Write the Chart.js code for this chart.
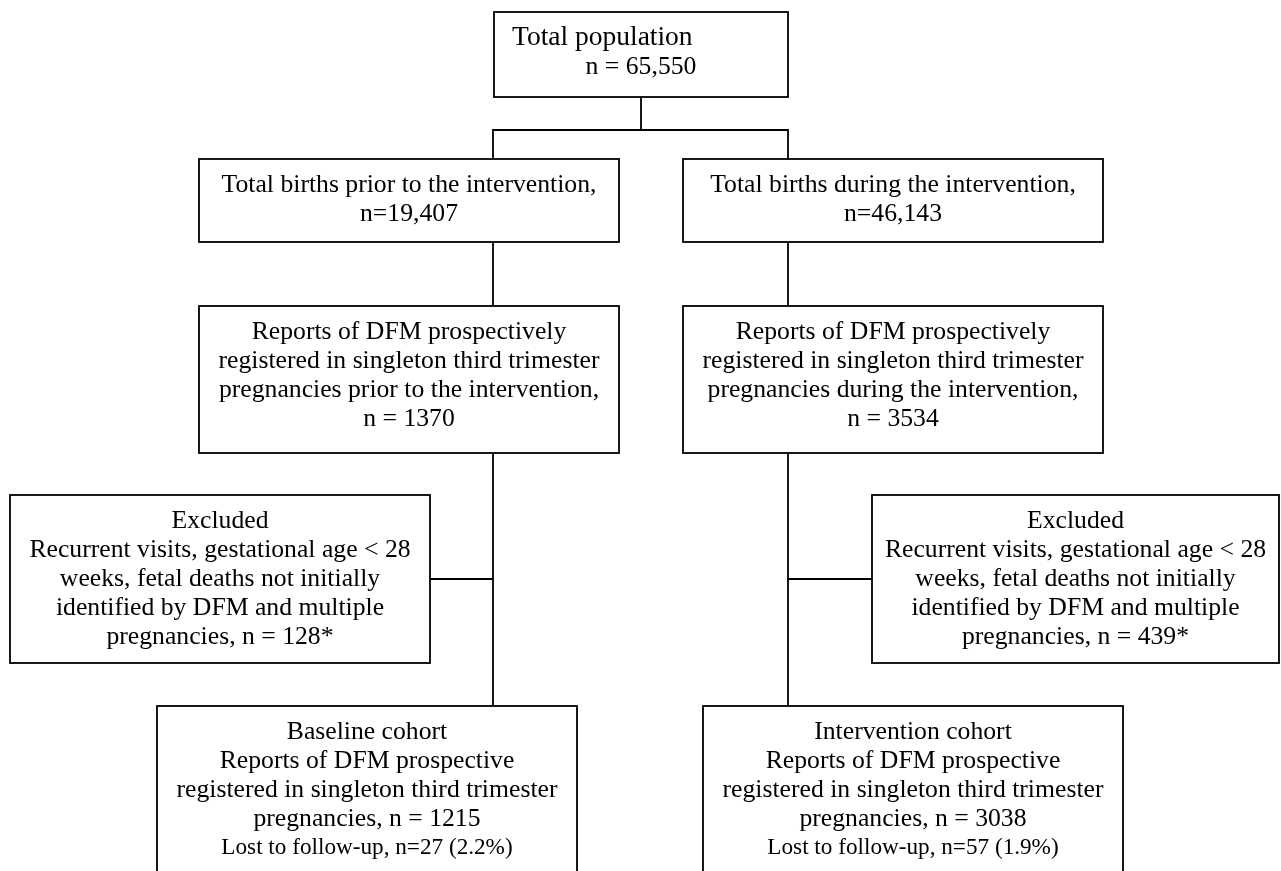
<!DOCTYPE html>
<html>
<head>
<meta charset="utf-8">
<script src="https://cdn.jsdelivr.net/npm/chart.js@4"></script>
<style>
  body { margin: 0; background: #fff; }
  #wrap { width: 1281px; height: 871px; }
</style>
</head>
<body>
<div id="wrap"><canvas id="flowChart" width="1281" height="871"></canvas></div>
<script>
// DATA - counts
var totalPopulation = 65550;
var armNames = ["prior to the intervention", "during the intervention"];
var birthCounts = [19407, 46143];
var reportCounts = [1370, 3534];
var excludedCounts = [128, 439];
var cohortNames = ["Baseline cohort", "Intervention cohort"];
var cohortCounts = [1215, 3038];
var lostCounts = [27, 57];
var lostPercents = [2.2, 1.9];

function fmt(n) { return n.toLocaleString("en-US"); }

// box texts built from the data
var boxes = [];
boxes.push({ id: "top", lines: ["Total population", "n = " + fmt(totalPopulation)], firstLeft: true });
for (var i = 0; i < 2; i++) {
    boxes.push({ id: "births" + i, lines: ["Total births " + armNames[i] + ",", "n=" + fmt(birthCounts[i])] });
    boxes.push({ id: "reports" + i, lines: ["Reports of DFM prospectively",
        "registered in singleton third trimester",
        "pregnancies " + armNames[i] + ",",
        "n = " + reportCounts[i]] });
    boxes.push({ id: "excluded" + i, lines: ["Excluded",
        "Recurrent visits, gestational age < 28",
        "weeks, fetal deaths not initially",
        "identified by DFM and multiple",
        "pregnancies, n = " + excludedCounts[i] + "*"] });
    boxes.push({ id: "cohort" + i, lines: [cohortNames[i],
        "Reports of DFM prospective",
        "registered in singleton third trimester",
        "pregnancies, n = " + cohortCounts[i],
        "Lost to follow-up, n=" + lostCounts[i] + " (" + lostPercents[i] + "%)"], smallLast: true });
}

// LAYOUT - box rectangles in chart units [left, top, right, bottom]
var boxLayout = {
    top: [494, 12, 788, 97],
    births0: [199, 159, 619, 242],
    births1: [683, 159, 1103, 242],
    reports0: [199, 306, 619, 453],
    reports1: [683, 306, 1103, 453],
    excluded0: [10, 495, 430, 663],
    excluded1: [872, 495, 1279, 663],
    cohort0: [157, 706, 577, 900],
    cohort1: [703, 706, 1123, 900]
};
var spineX = [493, 788];   // vertical flow lines for each arm
var splitY = 130;          // where the total splits into two arms

// connectors derived from the layout
var t = boxLayout.top;
var connectors = [
    [{ x: (t[0] + t[2]) / 2, y: t[3] }, { x: (t[0] + t[2]) / 2, y: splitY }],
    [{ x: spineX[0], y: boxLayout.births0[1] }, { x: spineX[0], y: splitY }, { x: spineX[1], y: splitY }, { x: spineX[1], y: boxLayout.births1[1] }]
];
for (var k = 0; k < 2; k++) {
    connectors.push([{ x: spineX[k], y: boxLayout["births" + k][3] }, { x: spineX[k], y: boxLayout["reports" + k][1] }]);
    connectors.push([{ x: spineX[k], y: boxLayout["reports" + k][3] }, { x: spineX[k], y: boxLayout["cohort" + k][1] }]);
    var ex = boxLayout["excluded" + k];
    var midY = (ex[1] + ex[3]) / 2;
    connectors.push([{ x: k === 0 ? ex[2] : ex[0], y: midY }, { x: spineX[k], y: midY }]);
}

var boxPlugin = {
    id: "boxes",
    afterDatasetsDraw: function (chart) {
        var ctx = chart.ctx;
        var xs = chart.scales.x, ys = chart.scales.y;
        ctx.save();
        boxes.forEach(function (b) {
            var r = boxLayout[b.id];
            var x0 = xs.getPixelForValue(r[0]), y0 = ys.getPixelForValue(r[1]);
            var x1 = xs.getPixelForValue(r[2]), y1 = ys.getPixelForValue(r[3]);
            ctx.fillStyle = "#fff";
            ctx.fillRect(x0, y0, x1 - x0, y1 - y0);
            ctx.strokeStyle = "#000";
            ctx.lineWidth = 1.8;
            ctx.strokeRect(x0, y0, x1 - x0, y1 - y0);
            ctx.fillStyle = "#000";
            ctx.textBaseline = "middle";
            b.lines.forEach(function (line, j) {
                var size = 25.7;
                if (b.smallLast && j === b.lines.length - 1) size = 23.2;
                if (b.firstLeft && j === 0) size = 27.5;
                ctx.font = size + "px 'Liberation Serif', 'Times New Roman', serif";
                var y = y0 + 26 + j * 29;
                if (b.firstLeft && j === 0) {
                    ctx.textAlign = "left";
                    ctx.fillText(line, x0 + 18, y);
                } else {
                    ctx.textAlign = "center";
                    ctx.fillText(line, (x0 + x1) / 2, y);
                }
            });
        });
        ctx.restore();
    }
};

var chartOne = document.getElementById("flowChart").getContext("2d");
var myChart = new Chart(chartOne, {
    type: "scatter",
    data: {
        datasets: connectors.map(function (pts) {
            return {
                data: pts,
                showLine: true,
                borderColor: "#000",
                borderWidth: 1.8,
                pointRadius: 0,
                tension: 0
            };
        })
    },
    options: {
        responsive: false,
        animation: false,
        layout: { padding: 0 },
        plugins: { legend: { display: false }, tooltip: { enabled: false } },
        scales: {
            x: { type: "linear", min: 0, max: 1281, display: false },
            y: { type: "linear", min: 0, max: 871, reverse: true, display: false }
        }
    },
    plugins: [boxPlugin]
});
</script>
</body>
</html>
